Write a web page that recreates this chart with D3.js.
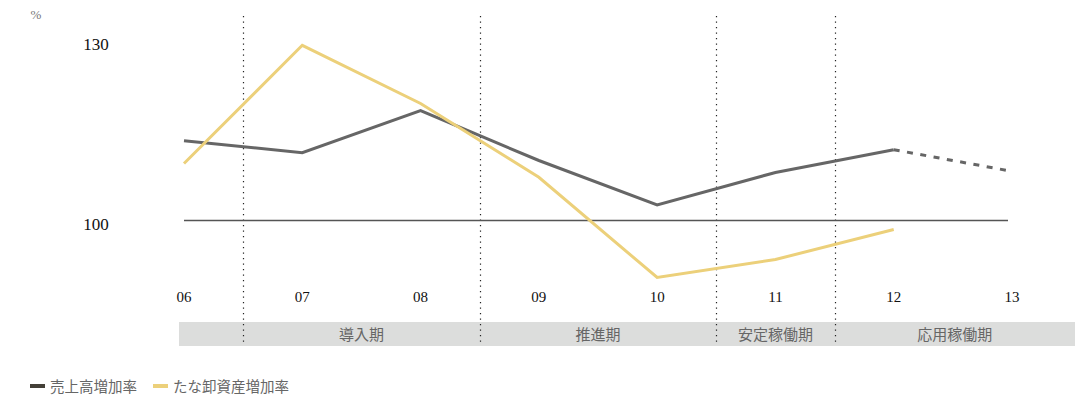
<!DOCTYPE html>
<html>
<head>
<meta charset="utf-8">
<script src="https://cdn.jsdelivr.net/npm/d3@7"></script>
<style>
  html, body { margin: 0; padding: 0; background: #fff; }
  svg { display: block; }
</style>
</head>
<body>
<svg id="chart" width="1075" height="397"></svg>
<script>
// Fiscal-year labels along the x axis
const years = ["06", "07", "08", "09", "10", "11", "12", "13"];
// Sales growth rate (%), 13 is a forecast drawn dashed
const salesGrowth = [113.3, 111.3, 118.3, 110.0, 102.6, 108.0, 111.8, 108.2];
// Inventory growth rate (%), no value for 13
const inventoryGrowth = [109.5, 129.2, 119.5, 107.2, 90.5, 93.5, 98.5];
// Y-axis tick labels
const yTicks = [100, 130];
// Phases: label and the years it spans (first, last)
const phaseNames = ["導入期", "推進期", "安定稼働期", "応用稼働期"];
const phaseStarts = ["07", "09", "11", "12"];
const phaseEnds = ["08", "10", "11", "13"];
// Legend entries
const seriesNames = ["売上高増加率", "たな卸資産増加率"];

const grey = "#666666";
const gold = "#ecd07a";
const serif = "'Liberation Serif', 'DejaVu Serif', serif";
const sans = "'Noto Sans CJK JP', 'Noto Sans', sans-serif";

const svg = d3.select("#chart");

const x = d3.scalePoint().domain(years).range([184, 1012]);
const step = x.step();
const y = d3.scaleLinear().domain([100, 130]).range([220.5, 40.5]);

// Phase band
const bandTop = 322, bandBottom = 346;
svg.append("rect")
  .attr("x", x(years[0]) - 5).attr("y", bandTop)
  .attr("width", 1075 - (x(years[0]) - 5)).attr("height", bandBottom - bandTop)
  .attr("fill", "#dcdddc");

svg.append("g").selectAll("text")
  .data(phaseNames)
  .join("text")
  .attr("x", (d, i) => {
    const l = x(phaseStarts[i]) - step / 2;
    const r = i === phaseNames.length - 1 ? 1075 : x(phaseEnds[i]) + step / 2;
    return (l + r) / 2;
  })
  .attr("y", bandTop + 18)
  .attr("text-anchor", "middle")
  .attr("font-family", sans)
  .attr("font-size", 15)
  .attr("fill", "#666")
  .text(d => d);

// Dotted phase dividers
svg.append("g").selectAll("line")
  .data(phaseStarts)
  .join("line")
  .attr("x1", d => Math.round(x(d) - step / 2) + 0.5)
  .attr("x2", d => Math.round(x(d) - step / 2) + 0.5)
  .attr("y1", 16).attr("y2", bandBottom)
  .attr("stroke", "#222")
  .attr("stroke-width", 1.2)
  .attr("stroke-dasharray", "1.2,4.3");

// 100% reference line
svg.append("line")
  .attr("x1", x(years[0])).attr("x2", 1008)
  .attr("y1", y(100)).attr("y2", y(100))
  .attr("stroke", "#555").attr("stroke-width", 1.5);

// Y tick labels
svg.append("g").selectAll("text")
  .data(yTicks)
  .join("text")
  .attr("x", 96)
  .attr("y", d => y(d) + 9)
  .attr("text-anchor", "middle")
  .attr("font-family", serif)
  .attr("font-size", 17)
  .attr("fill", "#111")
  .text(d => d);

svg.append("text")
  .attr("x", 36).attr("y", 19)
  .attr("text-anchor", "middle")
  .attr("font-family", serif)
  .attr("font-size", 13)
  .attr("fill", "#777")
  .text("%");

// X tick labels
svg.append("g").selectAll("text")
  .data(years)
  .join("text")
  .attr("x", d => x(d))
  .attr("y", 302)
  .attr("text-anchor", "middle")
  .attr("font-family", serif)
  .attr("font-size", 15)
  .attr("fill", "#111")
  .text(d => d);

const line = d3.line().x(d => x(d.year)).y(d => y(d.value));

// Sales: actual through 12, forecast 12 → 13 dashed
const sales = years.map((yr, i) => ({ year: yr, value: salesGrowth[i] }));
svg.append("path")
  .datum(sales.slice(0, 7))
  .attr("d", line)
  .attr("fill", "none").attr("stroke", grey).attr("stroke-width", 3)
  .attr("stroke-linejoin", "miter");
svg.append("path")
  .datum(sales.slice(6))
  .attr("d", line)
  .attr("fill", "none").attr("stroke", grey).attr("stroke-width", 3)
  .attr("stroke-dasharray", "6,7.5");

// Inventory
const inventory = inventoryGrowth.map((v, i) => ({ year: years[i], value: v }));
svg.append("path")
  .datum(inventory)
  .attr("d", line)
  .attr("fill", "none").attr("stroke", gold).attr("stroke-width", 3)
  .attr("stroke-linejoin", "miter");

// Legend
const legendColors = [ "#444038", gold ];
const legendX = [30, 153];
const lg = svg.append("g").selectAll("g")
  .data(seriesNames)
  .join("g")
  .attr("transform", (d, i) => `translate(${legendX[i]},386)`);
lg.append("rect")
  .attr("x", 0).attr("y", -2).attr("width", 15).attr("height", 4)
  .attr("fill", (d, i) => legendColors[i]);
lg.append("text")
  .attr("x", 20).attr("y", 5.5)
  .attr("font-family", sans)
  .attr("font-size", 14.5)
  .attr("fill", "#666")
  .text(d => d);
</script>
</body>
</html>
